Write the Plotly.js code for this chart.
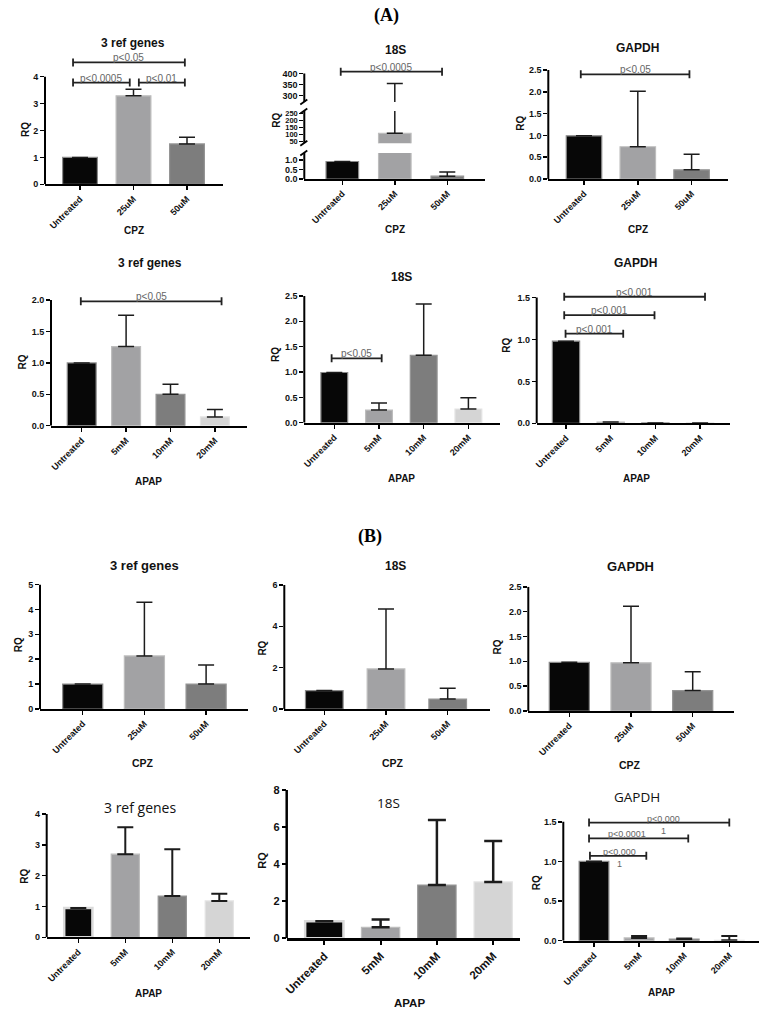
<!DOCTYPE html>
<html><head><meta charset="utf-8">
<script src="https://cdn.plot.ly/plotly-3.0.1.min.js"></script>
<style>html,body{margin:0;padding:0;background:#fff}#chart{width:773px;height:1018px}</style>
</head><body><div id="chart"></div>
<script>
// ---------- DATA ----------
const cpzCats = ['Untreated', '25uM', '50uM'];
const apapCats = ['Untreated', '5mM', '10mM', '20mM'];

// (A) CPZ
const aCpzRef3 = [1.0, 3.29, 1.50];
const aCpzRef3Err = [null, 0.24, 0.25];
const aCpzRef3Br = [[-0.13, 1.96, 4.53, 'p<0.05'], [-0.13, 0.93, 3.78, 'p<0.0005'], [1.10, 1.96, 3.78, 'p<0.01']];
const aCpz18S = [0.92, 107, 0.15];
const aCpz18SErr = [null, 248, 0.22];
const aCpz18SBr = [[-0.03, 1.90, 409, 'p<0.0005']];
const aCpzGapdh = [0.99, 0.74, 0.21];
const aCpzGapdhErr = [null, 1.27, 0.36];
const aCpzGapdhBr = [[-0.06, 1.96, 2.40, 'p<0.05']];
// (A) APAP
const aApapRef3 = [1.0, 1.26, 0.50, 0.14];
const aApapRef3Err = [null, 0.50, 0.16, 0.12];
const aApapRef3Br = [[-0.02, 3.15, 1.98, 'p<0.05']];
const aApap18S = [0.99, 0.25, 1.33, 0.27];
const aApap18SErr = [null, 0.14, 1.01, 0.22];
const aApap18SBr = [[-0.06, 1.06, 1.27, 'p<0.05']];
const aApapGapdh = [0.98, 0.015, 0.004, 0.004];
const aApapGapdhErr = [null, null, null, null];
const aApapGapdhBr = [[-0.04, 3.11, 1.51, 'p<0.001'], [-0.04, 1.98, 1.29, 'p<0.001'], [-0.01, 1.28, 1.07, 'p<0.001']];
// (B) CPZ
const bCpzRef3 = [1.0, 2.13, 1.0];
const bCpzRef3Err = [null, 2.16, 0.77];
const bCpz18S = [0.89, 1.94, 0.48];
const bCpz18SErr = [null, 2.90, 0.52];
const bCpzGapdh = [0.98, 0.97, 0.41];
const bCpzGapdhErr = [null, 1.14, 0.38];
// (B) APAP
const bApapRef3 = [0.95, 2.70, 1.34, 1.18];
const bApapRef3Err = [null, 0.87, 1.52, 0.23];
const bApap18S = [0.92, 0.59, 2.87, 3.04];
const bApap18SErr = [null, 0.43, 3.51, 2.21];
const bApapGapdh = [1.0, 0.035, 0.02, 0.005];
const bApapGapdhErr = [null, 0.025, 0.008, 0.055];
const bApapGapdhBr = [[-0.11, 3.0, 1.49, 'p<0.000<br>1', 1.55, 'mid'], [-0.11, 2.09, 1.29, 'p<0.0001', 0.725], [-0.09, 1.16, 1.07, 'p<0.000<br>1', 0.576, 'mid']];

// ---------- STYLE / LAYOUT ----------
const W = 773, H = 1018;
const px = v => v / W;
const py = v => 1 - v / H;
const SANS = 'Liberation Sans, Arial, sans-serif';
const OPEN = 'Open Sans, sans-serif';
const fillOf = {'Untreated': '#070707', '25uM': '#a2a2a4', '5mM': '#a2a2a4', '50uM': '#7d7d7d', '10mM': '#7d7d7d', '20mM': '#d5d5d5'};
const edgeOf = {'Untreated': '#8a8a8a', '25uM': '#bdbdbd', '5mM': '#bdbdbd', '50uM': '#959595', '10mM': '#959595', '20mM': '#e4e4e4'};

const std = {tick: 9, xtick: 9, rq: 10, xt: 10, title: 12, titleFam: SANS, titleW: 'bold', aw: 2, tw: 1.5, errW: 1.5, cap: 8};
const panels = [
  {cats: cpzCats, vals: aCpzRef3, errs: aCpzRef3Err, br: aCpzRef3Br, xL: 45, xR: 223, c0: 80, sp: 53.5, y0: 184.3, ppu: 26.9, top: 4, ticks: [0,1,2,3,4], dec: 0, bw: 0.65,
   title: ['3 ref genes', 133, 43], rq: [25, 130], xt: ['CPZ', 134, 230]},
  {cats: cpzCats, vals: aCpz18S, errs: aCpz18SErr, xL: 304.3, xR: 485, c0: 342.3, sp: 52.5, bw: 0.62,
   segs: [
     {lo: 0, hi: 1.37, pxLo: 179, ppu: 19, ticks: [0, 0.5, 1.0], dec: 1},
     {lo: 36, hi: 266, pxLo: 143.3, ppu: 0.14, ticks: [50,100,150,200,250], dec: 0, tick: 7.5},
     {lo: 271, hi: 436, pxLo: 102, ppu: 0.22, axisTop: 400, ticks: [300,350,400], dec: 0, br: aCpz18SBr}
   ],
   title: ['18S', 395, 50], rq: [275.7, 120], xt: ['CPZ', 395, 229]},
  {cats: cpzCats, vals: aCpzGapdh, errs: aCpzGapdhErr, br: aCpzGapdhBr, xL: 548.3, xR: 728, c0: 584, sp: 53.8, y0: 179, ppu: 43.6, top: 2.5, ticks: [0,0.5,1,1.5,2,2.5], dec: 1, bw: 0.66,
   title: ['GAPDH', 637.7, 48.3], rq: [520.7, 123], xt: ['CPZ', 638, 229]},
  {cats: apapCats, vals: aApapRef3, errs: aApapRef3Err, br: aApapRef3Br, xL: 51, xR: 246.7, c0: 81.7, sp: 44.4, y0: 425.7, ppu: 62.8, top: 2, ticks: [0,0.5,1,1.5,2], dec: 1, bw: 0.65,
   title: ['3 ref genes', 150, 263.3], rq: [22.7, 361.7], xt: ['APAP', 148.5, 481.7]},
  {cats: apapCats, vals: aApap18S, errs: aApap18SErr, br: aApap18SBr, xL: 304.3, xR: 500, c0: 334.3, sp: 44.7, y0: 422.7, ppu: 50.7, top: 2.5, ticks: [0,0.5,1,1.5,2,2.5], dec: 1, bw: 0.6,
   title: ['18S', 401.7, 276.7], rq: [275, 355], xt: ['APAP', 401.7, 478.3]},
  {cats: apapCats, vals: aApapGapdh, errs: aApapGapdhErr, br: aApapGapdhBr, xL: 536.7, xR: 730, c0: 566, sp: 44.7, y0: 423.3, ppu: 83.8, top: 1.5, ticks: [0,0.5,1,1.5], dec: 1, bw: 0.61,
   title: ['GAPDH', 635, 263.3], rq: [506.7, 345], xt: ['APAP', 636, 478.3]},
  {cats: cpzCats, vals: bCpzRef3, errs: bCpzRef3Err, br: [], xL: 40, xR: 248.3, c0: 82.7, sp: 61.7, y0: 709, ppu: 24.9, top: 5, ticks: [0,1,2,3,4,5], dec: 0, bw: 0.65,
   title: ['3 ref genes', 144, 565], rq: [18.3, 645], xt: ['CPZ', 143.3, 763.3], st: {title: 13, xt: 10.5}},
  {cats: cpzCats, vals: bCpz18S, errs: bCpz18SErr, br: [], xL: 284.3, xR: 490, c0: 324.3, sp: 61.7, y0: 709, ppu: 20.67, top: 6, ticks: [0,2,4,6], dec: 0, bw: 0.61,
   title: ['18S', 395, 566], rq: [262.3, 648.3], xt: ['CPZ', 393.3, 763.3], st: {title: 12, xt: 10.5}},
  {cats: cpzCats, vals: bCpzGapdh, errs: bCpzGapdhErr, br: [], xL: 528.3, xR: 734, c0: 569.3, sp: 61.7, y0: 711, ppu: 49.7, top: 2.5, ticks: [0,0.5,1,1.5,2,2.5], dec: 1, bw: 0.65,
   title: ['GAPDH', 630.7, 566.7], rq: [497.7, 646.7], xt: ['CPZ', 630, 765], st: {title: 13, xt: 10.5}},
  {cats: apapCats, vals: bApapRef3, errs: bApapRef3Err, br: [], xL: 46.7, xR: 250, c0: 78.3, sp: 47, y0: 937.3, ppu: 30.8, top: 4, ticks: [0,1,2,3,4], dec: 0, bw: 0.6,
   title: ['3 ref genes', 140, 807.7], rq: [25, 876.7], xt: ['APAP', 148.3, 993.3], frame: true,
   st: {title: 14, titleFam: OPEN, titleW: 'normal', errW: 2}},
  {cats: apapCats, vals: bApap18S, errs: bApap18SErr, br: [], xL: 286.7, xR: 520, c0: 324.3, sp: 56.3, y0: 938.3, ppu: 18.54, top: 8, ticks: [0,2,4,6,8], dec: 0, bw: 0.68,
   title: ['18S', 388.3, 803.3], rq: [261.7, 860], xt: ['APAP', 410, 1003.3], frame: true,
   st: {tick: 11, xtick: 11.5, rq: 11, xt: 11.5, title: 13.5, titleFam: OPEN, titleW: 'normal', aw: 2.5, tw: 2, errW: 2.5, cap: 9}},
  {cats: apapCats, vals: bApapGapdh, errs: bApapGapdhErr, br: bApapGapdhBr, xL: 563.3, xR: 759.3, c0: 594, sp: 45.1, y0: 940.7, ppu: 79.3, top: 1.5, ticks: [0,0.5,1,1.5], dec: 1, bw: 0.66,
   title: ['GAPDH', 637.3, 796.7], rq: [536, 883.3], xt: ['APAP', 661.7, 992.7],
   st: {title: 13.5, titleFam: OPEN, titleW: 'normal', errW: 2, lbl: 9}}
];

const data = [], shapes = [], annotations = [];
const layout = {width: W, height: H, margin: {l: 0, r: 0, t: 0, b: 0}, paper_bgcolor: '#fff', plot_bgcolor: 'rgba(0,0,0,0)', showlegend: false};
let xc = 0, yc = 0;

function addText(text, x, y, font, extra) {
  annotations.push(Object.assign({text, xref: 'paper', yref: 'paper', x: px(x), y: py(y), showarrow: false, xanchor: 'center', yanchor: 'middle', font}, extra || {}));
}

panels.forEach(p => {
  const s = Object.assign({}, std, p.st || {});
  xc++;
  const xName = xc === 1 ? 'x' : 'x' + xc;
  const xKey = xc === 1 ? 'xaxis' : 'xaxis' + xc;
  const r0 = (p.xL - p.c0) / p.sp;
  const r1 = r0 + (p.xR - p.xL) / p.sp;
  const segs = p.segs || [(() => {
    const hi = Math.max(p.top, ...p.br.map(b => b[2] + 7 / p.ppu));
    return {lo: 0, hi, pxLo: p.y0, ppu: p.ppu, axisTop: p.top, ticks: p.ticks, dec: p.dec, br: p.br};
  })()];
  let bottomY = null;
  segs.forEach((g, k) => {
    yc++;
    const yName = yc === 1 ? 'y' : 'y' + yc;
    const yKey = yc === 1 ? 'yaxis' : 'yaxis' + yc;
    if (k === 0) bottomY = yName;
    const pxHi = g.pxLo - (g.hi - g.lo) * g.ppu;
    g.pxHi = pxHi;
    layout[yKey] = {
      domain: [py(g.pxLo), py(pxHi)], range: [g.lo, g.hi], anchor: xName,
      showline: false, showgrid: false, zeroline: false,
      ticks: 'outside', ticklen: 4, tickwidth: s.tw, tickcolor: '#000',
      tickvals: g.ticks, ticktext: g.ticks.map(t => t.toFixed(g.dec)),
      tickfont: {family: SANS, size: g.tick || s.tick, color: '#111', weight: 'bold'}
    };
    shapes.push({type: 'line', xref: xName + ' domain', yref: yName, x0: 0, x1: 0, y0: g.lo, y1: g.axisTop !== undefined ? g.axisTop : g.hi, line: {color: '#000', width: s.aw}});
    data.push({
      type: 'bar', x: p.cats, y: p.vals, xaxis: xName, yaxis: yName, width: p.bw, hoverinfo: 'skip',
      marker: {color: p.cats.map(c => fillOf[c]),
               line: {color: p.cats.map(c => (p.frame && c === 'Untreated') ? '#dadada' : edgeOf[c]), width: p.cats.map(c => (p.frame && c === 'Untreated') ? 2.5 : 1.2)}},
      error_y: {type: 'data', symmetric: false, array: p.errs, arrayminus: p.errs.map(() => 0), color: '#1c1c1c', thickness: s.errW, width: s.cap}
    });
    (g.br || []).forEach(b => {
      const capH = 4 / g.ppu;
      const lc = {color: '#222', width: 1.8};
      shapes.push({type: 'line', xref: xName, yref: yName, x0: b[0], x1: b[1], y0: b[2], y1: b[2], line: lc});
      shapes.push({type: 'line', xref: xName, yref: yName, x0: b[0], x1: b[0], y0: b[2] - capH, y1: b[2] + capH, line: lc});
      shapes.push({type: 'line', xref: xName, yref: yName, x0: b[1], x1: b[1], y0: b[2] - capH, y1: b[2] + capH, line: lc});
      const lx = b[4] !== undefined ? b[4] : (b[0] + b[1]) / 2;
      const mid = b[5] === 'mid';
      annotations.push({text: b[3], xref: xName, yref: yName, x: lx, y: b[2], showarrow: false,
        xanchor: 'center', yanchor: mid ? 'middle' : 'bottom', yshift: mid ? -2 : -3,
        font: {family: SANS, size: s.lbl || 10, color: '#666'}});
    });
  });
  // break marks for broken axis
  if (p.segs) {
    for (let k = 0; k < segs.length; k++) {
      const edges = [];
      if (k > 0) edges.push(segs[k].pxLo);
      if (k < segs.length - 1) edges.push(segs[k].pxHi);
      edges.forEach(e => shapes.push({type: 'line', xref: 'paper', yref: 'paper', x0: px(p.xL - 4), x1: px(p.xL + 3), y0: py(e + 2.5), y1: py(e - 2.5), line: {color: '#000', width: 1.8}}));
    }
  }
  layout[xKey] = {
    domain: [px(p.xL), px(p.xR)], range: [r0, r1], anchor: bottomY, type: 'category',
    showline: true, linewidth: s.aw, linecolor: '#000', showgrid: false, zeroline: false,
    ticks: 'outside', ticklen: 4, tickwidth: s.tw, tickcolor: '#000', tickangle: -45,
    tickfont: {family: SANS, size: s.xtick, color: '#111', weight: 'bold'}
  };
  addText(p.title[0], p.title[1], p.title[2], {family: s.titleFam, size: s.title, color: '#111', weight: s.titleW});
  addText('RQ', p.rq[0], p.rq[1], {family: SANS, size: s.rq, color: '#111', weight: 'bold'}, {textangle: -90});
  addText(p.xt[0], p.xt[1], p.xt[2], {family: SANS, size: s.xt, color: '#111', weight: 'bold'});
});

addText('(A)', 386, 15, {family: 'Liberation Serif, Times New Roman, serif', size: 18, color: '#000', weight: 'bold'});
addText('(B)', 370, 536, {family: 'Liberation Serif, Times New Roman, serif', size: 18, color: '#000', weight: 'bold'});

layout.shapes = shapes;
layout.annotations = annotations;
Plotly.newPlot('chart', data, layout, {displayModeBar: false, staticPlot: true});
</script>
</body></html>
